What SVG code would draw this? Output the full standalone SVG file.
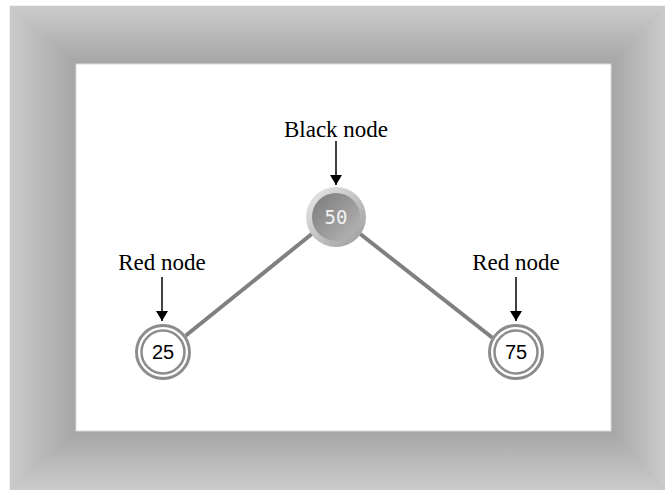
<svg xmlns="http://www.w3.org/2000/svg" width="665" height="490" viewBox="0 0 665 490">
<defs>
<linearGradient id="gTop" x1="0" y1="0" x2="0" y2="1"><stop offset="0" stop-color="#cbcbcb"/><stop offset="1" stop-color="#a6a6a6"/></linearGradient>
<linearGradient id="gBot" x1="0" y1="1" x2="0" y2="0"><stop offset="0" stop-color="#cbcbcb"/><stop offset="1" stop-color="#a6a6a6"/></linearGradient>
<linearGradient id="gLeft" x1="0" y1="0" x2="1" y2="0"><stop offset="0" stop-color="#cbcbcb"/><stop offset="1" stop-color="#a6a6a6"/></linearGradient>
<linearGradient id="gRight" x1="1" y1="0" x2="0" y2="0"><stop offset="0" stop-color="#cbcbcb"/><stop offset="1" stop-color="#a6a6a6"/></linearGradient>
<linearGradient id="gRing" x1="0" y1="0" x2="1" y2="1"><stop offset="0" stop-color="#ececec"/><stop offset="1" stop-color="#9a9a9a"/></linearGradient>
<linearGradient id="gCore" x1="0" y1="0" x2="1" y2="1"><stop offset="0" stop-color="#7a7a7a"/><stop offset="1" stop-color="#b8b8b8"/></linearGradient>
<marker id="arr" viewBox="0 0 10 12" refX="10" refY="6" markerWidth="10" markerHeight="12" markerUnits="userSpaceOnUse" orient="auto"><path d="M0,0 L10,6 L0,12 Z" fill="#000"/></marker>
</defs>
<style>
.lbl{font-family:"Liberation Serif","Times New Roman",serif;font-size:23px;fill:#000;text-anchor:middle}
.num{font-family:"Liberation Sans",Arial,sans-serif;font-size:20px;fill:#000;text-anchor:middle}
.bnum{font-family:"DejaVu Sans Mono","Liberation Mono",monospace;font-size:19px;fill:#f2f2f2;text-anchor:middle}
.edge{stroke:#808080;stroke-width:4;fill:none}
.ptr{stroke:#000;stroke-width:1.5;fill:none}
.ring{fill:none;stroke:#8c8c8c}
</style>
<g id="frame">
<rect x="10" y="6" width="655" height="484" fill="#b8b8b8"/>
<polygon points="10,6 665,6 611,64 76,64" fill="url(#gTop)" stroke="url(#gTop)" stroke-width="0.5"/>
<polygon points="10,6 76,64 76,431 10,490" fill="url(#gLeft)" stroke="url(#gLeft)" stroke-width="0.5"/>
<polygon points="665,6 665,490 611,431 611,64" fill="url(#gRight)" stroke="url(#gRight)" stroke-width="0.5"/>
<polygon points="10,490 76,431 611,431 665,490" fill="url(#gBot)" stroke="url(#gBot)" stroke-width="0.5"/>
<rect x="76" y="64" width="535" height="367" fill="#fff" stroke="#dcdcdc" stroke-width="1"/>
</g>
<g id="connectors">
<line class="edge" x1="313" y1="233" x2="184" y2="337"/>
<line class="edge" x1="359" y1="233" x2="494" y2="339"/>
<line class="ptr" x1="336" y1="141" x2="336" y2="185" marker-end="url(#arr)"/>
<line class="ptr" x1="162" y1="277" x2="162" y2="321" marker-end="url(#arr)"/>
<line class="ptr" x1="516" y1="277" x2="516" y2="321" marker-end="url(#arr)"/>
</g>
<g id="node50">
<circle cx="336" cy="217" r="30" fill="url(#gRing)"/>
<circle cx="336" cy="217" r="24" fill="url(#gCore)"/>
<text class="bnum" x="336" y="224">50</text>
</g>
<g id="node25">
<circle cx="163" cy="352" r="28" fill="#fff"/>
<circle class="ring" cx="163" cy="352" r="26.5" stroke-width="3"/>
<circle class="ring" cx="163" cy="352" r="21.5" stroke-width="2.5"/>
<text class="num" x="163" y="359">25</text>
</g>
<g id="node75">
<circle cx="516" cy="352" r="28" fill="#fff"/>
<circle class="ring" cx="516" cy="352" r="26.5" stroke-width="3"/>
<circle class="ring" cx="516" cy="352" r="21.5" stroke-width="2.5"/>
<text class="num" x="516" y="359">75</text>
</g>
<g id="labels">
<text class="lbl" x="336" y="137">Black node</text>
<text class="lbl" x="162" y="270">Red node</text>
<text class="lbl" x="516" y="270">Red node</text>
</g>
</svg>
